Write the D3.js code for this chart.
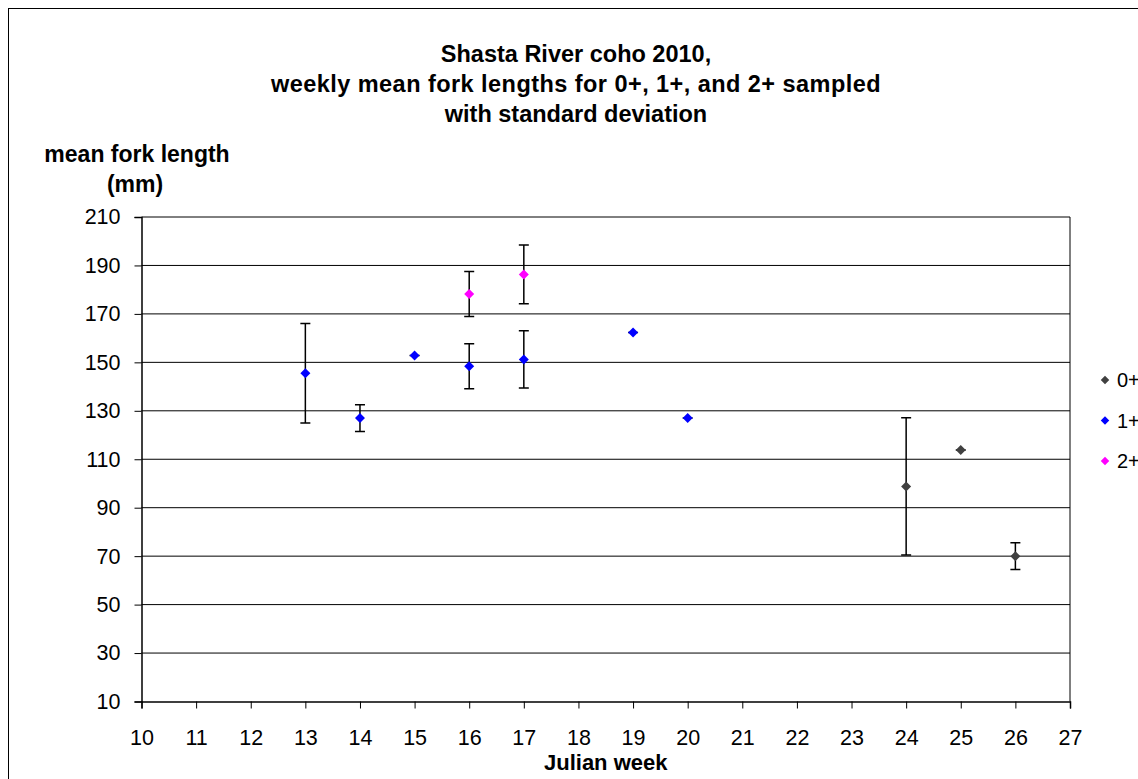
<!DOCTYPE html>
<html>
<head>
<meta charset="utf-8">
<script src="https://cdn.jsdelivr.net/npm/d3@7"></script>
<style>
  body { margin: 0; background: #fff; }
  svg { display: block; font-family: "Liberation Sans", Arial, sans-serif; }
</style>
</head>
<body>
<div id="chart"></div>
<script>
// series values: [julian week, mean fork length, standard deviation]
const age0 = [[24, 98.8, 28.3], [25, 113.8, 0], [26, 70, 5.5]];
const age1 = [[13, 145.5, 20.5], [14, 127, 5.5], [15, 152.8, 0], [16, 148.4, 9.3],
              [17, 151.2, 11.8], [19, 162.3, 0], [20, 127, 0]];
const age2 = [[16, 178.2, 9.3], [17, 186.3, 12.1]];
const seriesNames = ['0+', '1+', '2+'];
const seriesColors = ['#404040', '#0000ff', '#ff00ff'];
const xTicks = d3.range(10, 28);
const yTicks = d3.range(10, 211, 20);

const width = 1138, height = 779;
const margin = { top: 217, right: 68, bottom: 77.5, left: 141.5 };
const iw = width - margin.left - margin.right;
const ih = height - margin.top - margin.bottom;

const svg = d3.select('#chart').append('svg')
  .attr('width', width)
  .attr('height', height);

// outer chart frame (cut off at right and bottom like the original)
svg.append('rect')
  .attr('x', 8.5).attr('y', 8.5)
  .attr('width', width).attr('height', height)
  .attr('fill', 'none').attr('stroke', '#000').attr('stroke-width', 1);

const g = svg.append('g').attr('transform', `translate(${margin.left},${margin.top})`);

const x = d3.scaleLinear().domain([10, 27]).range([0, iw]);
const y = d3.scaleLinear().domain([10, 210]).range([ih, 0]);

// gridlines
g.selectAll('.grid')
  .data(yTicks.slice(1))
  .enter()
  .append('line')
  .attr('x1', 0).attr('x2', iw)
  .attr('y1', d => y(d)).attr('y2', d => y(d))
  .attr('stroke', '#000').attr('stroke-width', 1);

// right border of plot
g.append('line')
  .attr('x1', iw).attr('x2', iw).attr('y1', 0).attr('y2', ih)
  .attr('stroke', '#000');

// axes
const yAxis = g.append('g')
  .call(d3.axisLeft(y).tickValues(yTicks).tickSize(7).tickPadding(14));
const xAxis = g.append('g')
  .attr('transform', `translate(0,${ih})`)
  .call(d3.axisBottom(x).tickValues(xTicks).tickSize(7).tickPadding(21));
[yAxis, xAxis].forEach(a => {
  a.select('.domain').attr('stroke', '#000').attr('stroke-width', 1.5);
  a.selectAll('.tick line').attr('stroke', '#000');
  a.selectAll('text').attr('font-size', 21.5).attr('fill', '#000')
    .attr('font-family', '"Liberation Sans", Arial, sans-serif');
});

// series with error bars
const allSeries = [age0, age1, age2];
const diamond = 'M0,-5L5,0L0,5L-5,0Z';

allSeries.forEach((data, i) => {
  const s = g.append('g');
  s.selectAll('.err')
    .data(data)
    .enter()
    .append('path')
    .attr('d', d => {
      const cx = x(d[0]);
      const top = y(d[1] + d[2]), bot = y(d[1] - d[2]);
      return `M${cx - 5},${top}H${cx + 5}M${cx},${top}V${bot}M${cx - 5},${bot}H${cx + 5}`;
    })
    .attr('fill', 'none').attr('stroke', '#000').attr('stroke-width', 1.5);
  s.selectAll('.pt')
    .data(data)
    .enter()
    .append('path')
    .attr('d', diamond)
    .attr('transform', d => `translate(${x(d[0])},${y(d[1])})`)
    .attr('fill', seriesColors[i]);
});

// title
const title = ['Shasta River coho 2010,',
  'weekly mean fork lengths for 0+, 1+, and 2+ sampled',
  'with standard deviation'];
svg.selectAll('.title')
  .data(title)
  .enter()
  .append('text')
  .attr('x', 576)
  .attr('y', (d, i) => 61.5 + i * 30.3)
  .attr('text-anchor', 'middle')
  .attr('font-size', 23.5).attr('font-weight', 'bold')
  .attr('letter-spacing', (d, i) => i === 1 ? 0.45 : 0)
  .text(d => d);

// y-axis title
svg.append('text')
  .attr('x', 137).attr('y', 161.5)
  .attr('text-anchor', 'middle')
  .attr('font-size', 23).attr('font-weight', 'bold')
  .text('mean fork length');
svg.append('text')
  .attr('x', 135).attr('y', 192)
  .attr('text-anchor', 'middle')
  .attr('font-size', 23).attr('font-weight', 'bold')
  .text('(mm)');

// x-axis title
svg.append('text')
  .attr('x', margin.left + iw / 2).attr('y', 770)
  .attr('text-anchor', 'middle')
  .attr('font-size', 22).attr('font-weight', 'bold')
  .text('Julian week');

// legend
const legend = svg.append('g');
seriesNames.forEach((name, i) => {
  const ly = 380 + i * 40.5;
  legend.append('path')
    .attr('d', diamond)
    .attr('transform', `translate(1105,${ly}) scale(0.85)`)
    .attr('fill', seriesColors[i]);
  legend.append('text')
    .attr('x', 1117).attr('y', ly + 7)
    .attr('font-size', 20)
    .text(name);
});
</script>
</body>
</html>
